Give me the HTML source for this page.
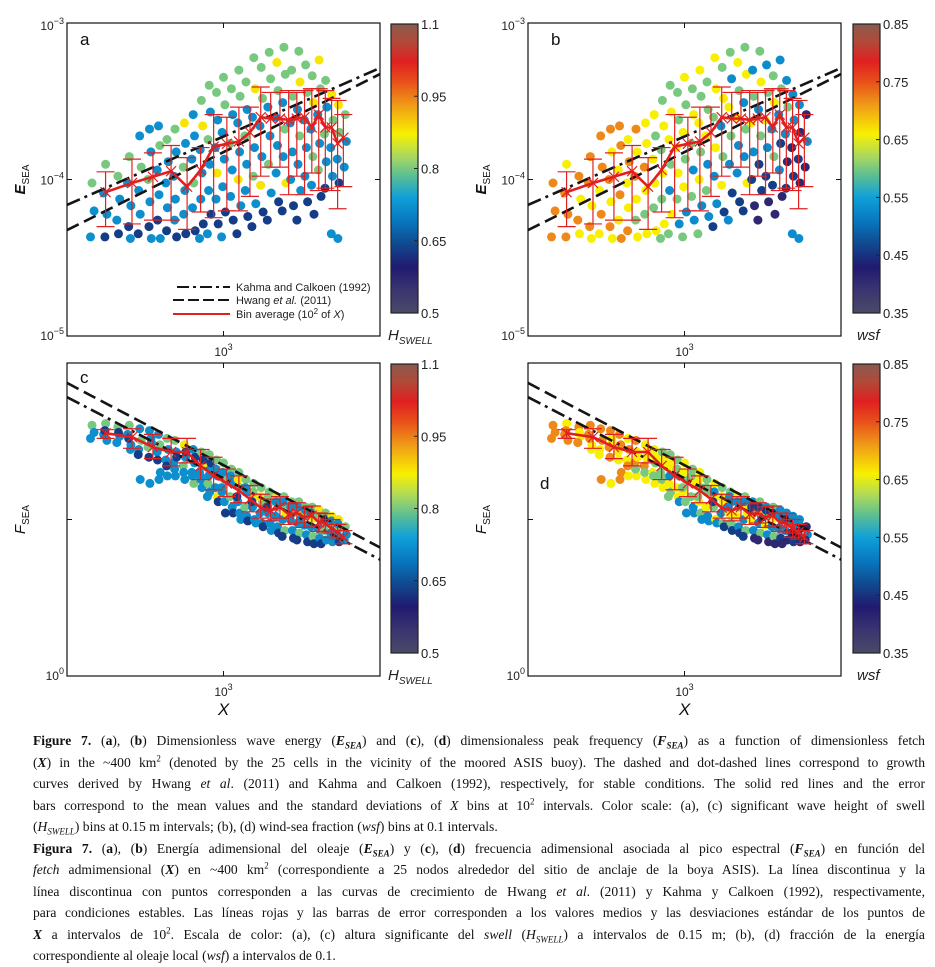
<!DOCTYPE html>
<html><head><meta charset="utf-8">
<style>
html,body{margin:0;padding:0;background:#fff;width:935px;height:958px;overflow:hidden;}
#fig{position:absolute;left:0;top:0;}
#cap{position:absolute;left:33px;top:730px;width:892px;font-family:"Liberation Serif",serif;font-size:13.6px;line-height:21.5px;color:#111;}
#cap div{text-align:justify;text-align-last:justify;white-space:nowrap;overflow:visible;}
#cap div.last{text-align-last:left;}
#cap sub,#cap sup{line-height:0;font-size:9px;}
</style></head>
<body>
<svg id="fig" width="935" height="720" xmlns="http://www.w3.org/2000/svg" font-family="Liberation Sans, sans-serif">
<defs>
<linearGradient id="cgrad" x1="0" y1="0" x2="0" y2="1">
<stop offset="0" stop-color="#8a5a4e"/><stop offset="0.06" stop-color="#b04a3a"/><stop offset="0.13" stop-color="#e02020"/><stop offset="0.2" stop-color="#e8501a"/><stop offset="0.28" stop-color="#f09a18"/><stop offset="0.38" stop-color="#f8f000"/><stop offset="0.46" stop-color="#a8d860"/><stop offset="0.52" stop-color="#60c090"/><stop offset="0.6" stop-color="#10a0d8"/><stop offset="0.68" stop-color="#0878c0"/><stop offset="0.76" stop-color="#104a90"/><stop offset="0.84" stop-color="#201a70"/><stop offset="0.92" stop-color="#3a3570"/><stop offset="1" stop-color="#4a4a68"/>
</linearGradient>
</defs>
</svg>
<div id="cap">
<div><b>Figure 7.</b> (<b>a</b>), (<b>b</b>) Dimensionless wave energy (<b><i>E<sub>SEA</sub></i></b>) and (<b>c</b>), (<b>d</b>) dimensionaless peak frequency (<b><i>F<sub>SEA</sub></i></b>) as a function of dimensionless fetch</div>
<div>(<b><i>X</i></b>) in the ~400 km<sup>2</sup> (denoted by the 25 cells in the vicinity of the moored ASIS buoy). The dashed and dot-dashed lines correspond to growth</div>
<div>curves derived by Hwang <i>et al</i>. (2011) and Kahma and Calkoen (1992), respectively, for stable conditions. The solid red lines and the error</div>
<div>bars correspond to the mean values and the standard deviations of <i>X</i> bins at 10<sup>2</sup> intervals. Color scale: (a), (c) significant wave height of swell</div>
<div class="last">(<i>H<sub>SWELL</sub></i>) bins at 0.15 m intervals; (b), (d) wind-sea fraction (<i>wsf</i>) bins at 0.1 intervals.</div>
<div><b>Figura 7.</b> (<b>a</b>), (<b>b</b>) Energía adimensional del oleaje (<b><i>E<sub>SEA</sub></i></b>) y (<b>c</b>), (<b>d</b>) frecuencia adimensional asociada al pico espectral (<b><i>F<sub>SEA</sub></i></b>) en función del</div>
<div><i>fetch</i> admimensional (<b><i>X</i></b>) en ~400 km<sup>2</sup> (correspondiente a 25 nodos alrededor del sitio de anclaje de la boya ASIS). La línea discontinua y la</div>
<div>línea discontinua con puntos corresponden a las curvas de crecimiento de Hwang <i>et al</i>. (2011) y Kahma y Calkoen (1992), respectivamente,</div>
<div>para condiciones estables. Las líneas rojas y las barras de error corresponden a los valores medios y las desviaciones estándar de los puntos de</div>
<div><b><i>X</i></b> a intervalos de 10<sup>2</sup>. Escala de color: (a), (c) altura significante del <i>swell</i> (<i>H<sub>SWELL</sub></i>) a intervalos de 0.15 m; (b), (d) fracción de la energía</div>
<div class="last">correspondiente al oleaje local (<i>wsf</i>) a intervalos de 0.1.</div>
</div>
<script>
// ---- observations (shared by all panels) ----
const obsX = [
380,386,376,
420,414,424,418,
460,466,456,462,
500,494,506,498,504,
540,546,536,542,534,
580,586,574,582,578,588,
620,626,614,622,616,628,
660,666,654,662,658,
700,706,694,702,698,708,
750,756,744,752,746,758,
800,808,792,804,796,812,
850,858,842,854,846,862,838,
900,908,892,904,896,912,888,
950,958,942,954,946,962,
1000,1010,990,1006,994,1014,986,
1060,1070,1050,1066,1054,1074,
1120,1130,1110,1126,1114,1136,1104,
1180,1190,1170,1186,1174,1196,
1250,1262,1238,1256,1244,1268,1232,
1320,1332,1308,1326,1314,1338,
1400,1414,1386,1408,1392,1420,1380,
1480,1494,1466,1488,1472,1500,
1560,1576,1546,1570,1552,1584,1540,
1650,1666,1634,1660,1640,1674,
1740,1756,1724,1750,1730,1764,1716,
1830,1848,1812,1840,1820,1856,
1920,1938,1902,1930,1910,1946,
2020,2040,2000,2030,2010,2050,
2120,2140,2100,2130,2110,
2220,2240,2200,2230,2210,
2330,2350,2310,2340,2320,
2450,2470,2430
];
const obsE = [
0.95e-4,0.63e-4,0.43e-4,
1.25e-4,0.82e-4,0.6e-4,0.43e-4,
1.05e-4,0.75e-4,0.55e-4,0.45e-4,
1.4e-4,0.95e-4,0.68e-4,0.5e-4,0.42e-4,
1.9e-4,1.2e-4,0.85e-4,0.6e-4,0.45e-4,
2.1e-4,1.5e-4,1.0e-4,0.72e-4,0.5e-4,0.42e-4,
2.2e-4,1.65e-4,1.15e-4,0.8e-4,0.55e-4,0.42e-4,
1.8e-4,1.3e-4,0.95e-4,0.66e-4,0.47e-4,
2.1e-4,1.5e-4,1.05e-4,0.75e-4,0.55e-4,0.43e-4,
2.3e-4,1.7e-4,1.2e-4,0.85e-4,0.6e-4,0.45e-4,
2.6e-4,1.9e-4,1.35e-4,0.95e-4,0.66e-4,0.47e-4,
3.2e-4,2.2e-4,1.55e-4,1.1e-4,0.75e-4,0.52e-4,0.42e-4,
4.0e-4,2.7e-4,1.8e-4,1.25e-4,0.85e-4,0.6e-4,0.45e-4,
3.6e-4,2.4e-4,1.6e-4,1.1e-4,0.75e-4,0.52e-4,
4.5e-4,3.0e-4,2.0e-4,1.35e-4,0.9e-4,0.62e-4,0.43e-4,
3.8e-4,2.6e-4,1.7e-4,1.15e-4,0.78e-4,0.55e-4,
5.0e-4,3.4e-4,2.3e-4,1.5e-4,1.0e-4,0.68e-4,0.45e-4,
4.2e-4,2.8e-4,1.9e-4,1.25e-4,0.85e-4,0.58e-4,
6.0e-4,3.8e-4,2.5e-4,1.6e-4,1.05e-4,0.7e-4,0.5e-4,
5.2e-4,3.3e-4,2.2e-4,1.4e-4,0.92e-4,0.62e-4,
6.5e-4,4.4e-4,2.9e-4,1.9e-4,1.25e-4,0.82e-4,0.55e-4,
5.6e-4,3.7e-4,2.5e-4,1.65e-4,1.1e-4,0.72e-4,
7.0e-4,4.7e-4,3.1e-4,2.1e-4,1.4e-4,0.95e-4,0.63e-4,
5.0e-4,3.4e-4,2.3e-4,1.5e-4,1.0e-4,0.68e-4,
6.6e-4,4.2e-4,2.8e-4,1.9e-4,1.25e-4,0.85e-4,0.55e-4,
5.4e-4,3.6e-4,2.4e-4,1.6e-4,1.05e-4,0.72e-4,
4.6e-4,3.1e-4,2.1e-4,1.4e-4,0.92e-4,0.6e-4,
5.8e-4,3.8e-4,2.6e-4,1.7e-4,1.15e-4,0.78e-4,
4.3e-4,2.9e-4,1.95e-4,1.3e-4,0.88e-4,
3.5e-4,2.4e-4,1.6e-4,1.05e-4,0.45e-4,
3.0e-4,2.0e-4,1.35e-4,0.95e-4,0.42e-4,
2.6e-4,1.75e-4,1.2e-4
];
const obsF = [
40,36,33,
41,35,32,37,
39,34,31,36,
40,35,30,33,28,
38,32,28,18,26,
37,33,29,17,25,31,
35,30,27,18,24,20,
33,28,24,19,22,
32,27,23,19,21,25,
30,25,22,18,20,27,
28,23,20,17,19,25,
27,22,19,16,18,24,20,
26,21,17,15,19,23,14,
24,19,16,14,21,13,
23,18,15,13,20,11,16,
21,17,14,12,19,11,
20,16,13,11,18,10,14,
18,15,12,10.5,16,9.8,
17,14,12,10,15,9.5,13,
16,13,11,9.5,14,9,
15,13,11,9.5,14,8.5,12,
14,12,10.5,9,13,8.2,
14,12,10,8.5,13,11,7.8,
13,11,10,8.5,12,7.6,
13,11,9.5,8.2,12,10,7.4,
12,10.5,9.2,8,11.5,7.2,
12,10.2,9,7.8,11,7.0,
11.5,10,8.8,7.6,10.5,7,
11,9.6,8.5,7.4,10,
10.5,9.2,8.2,7.2,9.8,
10,8.8,8,7.2,9.4,
9,8,7.4
];
const obsH = [
0.8,0.72,0.72,
0.8,0.72,0.72,0.63,
0.8,0.72,0.72,0.63,
0.8,0.72,0.72,0.63,0.72,
0.72,0.8,0.72,0.72,0.63,
0.72,0.72,0.8,0.72,0.63,0.72,
0.72,0.8,0.72,0.72,0.63,0.72,
0.8,0.72,0.72,0.72,0.63,
0.8,0.72,0.72,0.72,0.72,0.63,
0.88,0.72,0.8,0.72,0.72,0.63,
0.72,0.72,0.72,0.8,0.72,0.63,
0.8,0.88,0.72,0.72,0.72,0.63,0.72,
0.8,0.72,0.8,0.72,0.72,0.63,0.72,
0.8,0.72,0.72,0.88,0.72,0.63,
0.8,0.8,0.72,0.72,0.72,0.63,0.72,
0.8,0.72,0.8,0.72,0.72,0.63,
0.8,0.8,0.72,0.72,0.88,0.72,0.63,
0.8,0.72,0.8,0.72,0.72,0.63,
0.8,0.88,0.72,0.72,0.8,0.72,0.63,
0.8,0.8,0.72,0.72,0.88,0.63,
0.8,0.8,0.72,0.72,0.8,0.72,0.63,
0.88,0.8,0.72,0.72,0.72,0.63,
0.8,0.8,0.72,0.8,0.72,0.88,0.63,
0.8,0.8,0.72,0.72,0.72,0.63,
0.8,0.88,0.72,0.8,0.72,0.72,0.63,
0.8,0.8,0.72,0.72,0.72,0.63,
0.8,0.88,0.72,0.8,0.72,0.63,
0.88,0.8,0.72,0.72,0.8,0.63,
0.8,0.72,0.8,0.72,0.63,
0.88,0.8,0.72,0.72,0.72,
0.88,0.8,0.72,0.63,0.72,
0.8,0.72,0.72
];
const obsW = [
0.72,0.72,0.72,
0.66,0.72,0.72,0.72,
0.72,0.66,0.72,0.66,
0.72,0.72,0.66,0.72,0.66,
0.72,0.72,0.66,0.72,0.66,
0.72,0.66,0.72,0.66,0.72,0.66,
0.72,0.72,0.66,0.72,0.66,0.72,
0.66,0.72,0.66,0.66,0.72,
0.72,0.66,0.72,0.66,0.6,0.66,
0.66,0.66,0.72,0.66,0.6,0.66,
0.66,0.6,0.66,0.66,0.6,0.66,
0.6,0.66,0.6,0.66,0.6,0.66,0.6,
0.6,0.66,0.66,0.6,0.53,0.66,0.6,
0.6,0.6,0.66,0.66,0.6,0.53,
0.66,0.6,0.66,0.6,0.66,0.53,0.6,
0.6,0.66,0.6,0.53,0.6,0.53,
0.66,0.6,0.66,0.6,0.66,0.53,0.6,
0.6,0.6,0.66,0.53,0.6,0.53,
0.66,0.66,0.6,0.66,0.53,0.53,0.46,
0.6,0.66,0.53,0.6,0.66,0.46,
0.6,0.53,0.66,0.6,0.53,0.46,0.53,
0.66,0.6,0.66,0.53,0.53,0.46,
0.6,0.66,0.53,0.6,0.53,0.66,0.46,
0.53,0.6,0.66,0.53,0.46,0.41,
0.6,0.66,0.53,0.6,0.46,0.46,0.41,
0.53,0.6,0.66,0.53,0.46,0.41,
0.6,0.66,0.53,0.6,0.46,0.41,
0.53,0.6,0.53,0.46,0.53,0.41,
0.53,0.6,0.53,0.41,0.46,
0.53,0.53,0.41,0.46,0.53,
0.53,0.41,0.46,0.41,0.53,
0.41,0.53,0.41
];
// ---- bin averages (10^2 intervals of X) ----
const binX = [420,510,595,680,765,845,930,1025,1120,1215,1315,1415,1515,1615,1715,1815,1915,2015,2115,2215,2315,2415];
const binE = [0.83e-4,0.95e-4,1.04e-4,1.13e-4,0.9e-4,1.15e-4,1.62e-4,1.69e-4,1.75e-4,2.0e-4,2.5e-4,2.45e-4,2.45e-4,2.4e-4,2.45e-4,2.5e-4,2.15e-4,2.6e-4,2.15e-4,2.15e-4,1.7e-4,1.85e-4];
const binELo = [0.50e-4,0.52e-4,0.55e-4,0.55e-4,0.48e-4,0.62e-4,0.57e-4,0.63e-4,0.63e-4,0.78e-4,1.05e-4,1.2e-4,1.2e-4,0.8e-4,1.05e-4,0.8e-4,1.1e-4,0.85e-4,0.88e-4,0.85e-4,0.65e-4,0.9e-4];
const binEHi = [1.12e-4,1.35e-4,1.48e-4,1.65e-4,1.38e-4,1.6e-4,2.6e-4,2.5e-4,2.9e-4,2.9e-4,3.9e-4,3.6e-4,3.6e-4,3.7e-4,3.6e-4,3.7e-4,3.8e-4,3.8e-4,3.7e-4,3.3e-4,3.2e-4,2.6e-4];
const binF = [35.6,33.6,29,27,27,22,19.1,17,15.3,13.5,11.9,11.4,12,10.8,11,10.3,10.6,9.6,9.4,8.75,8.3,7.7];
const binFLo = [33,28.5,24.5,22,23,18,15.5,14,12.8,11.2,10.2,9.8,10.2,9.3,9.5,8.9,9.1,8.4,8.2,7.7,7.5,7.0];
const binFHi = [37.5,38,35,33,33,28,25,21,19,16.5,14.5,13.5,14,12.6,12.8,12,12.2,11,10.9,10,9.3,8.5];
// ---- growth curves: log10(y) = intercept + slope*log10(X) ----
const kahmaE = [-6.35, 0.875];
const hwangE = [-6.816, 0.997];
const kahmaF = [4.377, -1.038];
const hwangF = [4.50, -1.051];
// ---- colorbar ticks ----
const hTicks = [1.1,0.95,0.8,0.65,0.5];
const wTicks = [0.85,0.75,0.65,0.55,0.45,0.35];

const NS='http://www.w3.org/2000/svg';
const svg=document.getElementById('fig');
const stops=[[0,'#8a5a4e'],[0.06,'#b04a3a'],[0.13,'#e02020'],[0.2,'#e8501a'],[0.28,'#f09a18'],[0.38,'#f8f000'],[0.46,'#a8d860'],[0.52,'#60c090'],[0.6,'#10a0d8'],[0.68,'#0878c0'],[0.76,'#104a90'],[0.84,'#201a70'],[0.92,'#3a3570'],[1,'#4a4a68']];
function hx(c){return [1,3,5].map(i=>parseInt(c.substr(i,2),16));}
function cmap(t){t=Math.max(0,Math.min(1,t));for(let i=1;i<stops.length;i++){if(t<=stops[i][0]){const a=stops[i-1],b=stops[i];const f=(t-a[0])/(b[0]-a[0]);const A=hx(a[1]),B=hx(b[1]);return 'rgb('+A.map((v,k)=>Math.round(v+(B[k]-v)*f)).join(',')+')';}}return stops[stops.length-1][1];}
function el(tag,attrs,parent){const e=document.createElementNS(NS,tag);for(const k in attrs)e.setAttribute(k,attrs[k]);(parent||svg).appendChild(e);return e;}

function powText(x,y,exp,anchor,g){
  const t=el('text',{x:x,y:y,'font-size':12,'text-anchor':anchor,fill:'#222'},g);
  
  
  const a=el('tspan',{},t);a.textContent='10';
  const b=el('tspan',{dy:-6,'font-size':9},t);b.textContent=exp;
  return t;
}

function panel(p){
  const g=el('g',{});
  
  
  const W=313,H=313,x0=p.x,y0=p.y;
  const sx=v=>x0+(Math.log10(v)-2.5)*W;
  const sy=p.kind==='E'?(v=>y0+H-(Math.log10(v)+5)/2*H):(v=>y0+H-(Math.log10(v))/2*H);
  const cid='clip'+p.id;
  const cp=el('clipPath',{id:cid},g);el('rect',{x:x0,y:y0,width:W,height:H},cp);
  const pg=el('g',{'clip-path':'url(#'+cid+')'},g);
  
  
  const yv=p.kind==='E'?obsE:obsF;
  const cv=p.color==='h'?obsH:obsW;
  for(let i=0;i<obsX.length;i++){
    const t=p.color==='h'?(1.1-cv[i])/0.6:(0.85-cv[i])/0.5;
    const c=el('circle',{cx:sx(obsX[i]).toFixed(1),cy:sy(yv[i]).toFixed(1),r:4.5,fill:cmap(t)},pg);
    
    
  }
  const k=p.kind==='E'?kahmaE:kahmaF, hw=p.kind==='E'?hwangE:hwangF;
  const line=(co,dash,name)=>{const xa=Math.pow(10,2.5),xb=Math.pow(10,3.5);
    const l=el('line',{x1:sx(xa),y1:sy(Math.pow(10,co[0]+co[1]*2.5)),x2:sx(xb),y2:sy(Math.pow(10,co[0]+co[1]*3.5)),stroke:'#151515','stroke-width':2.6,'stroke-dasharray':dash},pg);
    
    };
  line(k,'14 5 3 5','kahma-calkoen-line');
  line(hw,'13 6','hwang-line');
  const bm=p.kind==='E'?binE:binF, bl=p.kind==='E'?binELo:binFLo, bh=p.kind==='E'?binEHi:binFHi;
  for(let i=0;i<binX.length;i++){
    const x=sx(binX[i]);
    const eg=el('g',{stroke:'#e02020','stroke-width':1.2},pg);
    
    
    el('line',{x1:x,x2:x,y1:sy(bl[i]),y2:sy(bh[i])},eg);
    el('line',{x1:x-9,x2:x+9,y1:sy(bl[i]),y2:sy(bl[i])},eg);
    el('line',{x1:x-9,x2:x+9,y1:sy(bh[i]),y2:sy(bh[i])},eg);
    const y=sy(bm[i]);
    el('line',{x1:x-5,x2:x+5,y1:y-5,y2:y+5},eg);
    el('line',{x1:x-5,x2:x+5,y1:y+5,y2:y-5},eg);
  }
  const pl=el('polyline',{points:binX.map((v,i)=>sx(v).toFixed(1)+','+sy(bm[i]).toFixed(1)).join(' '),fill:'none',stroke:'#e02020','stroke-width':2.6,'stroke-linejoin':'round'},pg);
  
  
  const bx=el('rect',{x:x0,y:y0,width:W,height:H,fill:'none',stroke:'#111','stroke-width':1.2},g);
  
  
  const xt=sx(1000), ym=y0+H/2;
  [[xt,y0,xt,y0+5],[xt,y0+H,xt,y0+H-5],[x0,ym,x0+5,ym],[x0+W,ym,x0+W-5,ym]].forEach(a=>{const t=el('line',{x1:a[0],y1:a[1],x2:a[2],y2:a[3],stroke:'#111','stroke-width':1},g);});
  powText(xt,y0+H+20,'3','middle',g);
  if(p.kind==='E'){powText(x0-3,y0+7,'−3','end',g);powText(x0-3,ym+5,'−4','end',g);powText(x0-3,y0+H+4,'−5','end',g);}
  else{powText(x0-3,y0+H+4,'0','end',g);}
  const yt=el('text',{transform:'translate('+(x0-42)+','+(ym)+') rotate(-90)','text-anchor':'middle','font-size':15,'font-style':'italic','font-weight':p.kind==='E'?'bold':'normal',fill:'#111'},g);
  
  
  const t1=el('tspan',{},yt);t1.textContent=p.kind==='E'?'E':'F';
  const t2=el('tspan',{'font-size':10,dy:4,'font-weight':'normal','font-style':'normal'},yt);t2.textContent='SEA';
  if(p.kind==='F'){const xl=el('text',{x:xt,y:y0+H+39,'text-anchor':'middle','font-size':17,'font-style':'italic',fill:'#111'},g);xl.textContent='X';
    
    }
  const lt=el('text',{x:p.lx,y:p.ly,'font-size':17,fill:'#111'},g);lt.textContent=p.id;
  
  
  const cb=el('g',{},g);
  
  
  const cx=p.cbx, cy=y0+1, ch=289, cw=27;
  el('rect',{x:cx,y:cy,width:cw,height:ch,fill:'url(#cgrad)',stroke:'#222','stroke-width':1.2},cb);
  const ticks=p.color==='h'?hTicks:wTicks;
  ticks.forEach((v,i)=>{const y=cy+i*ch/(ticks.length-1);
    el('line',{x1:cx+cw-4,x2:cx+cw,y1:y,y2:y,stroke:'#222'},cb);
    const tt=el('text',{x:cx+cw+3,y:y+5,'font-size':13,fill:'#222'},cb);tt.textContent=String(v);
    
    });
  const ct=el('text',{x:cx-3,y:cy+ch+27,'font-size':15,'font-style':'italic',fill:'#222'},cb);
  
  
  if(p.color==='h'){const a=el('tspan',{},ct);a.textContent='H';const b=el('tspan',{'font-size':10,dy:4},ct);b.textContent='SWELL';}
  else{ct.setAttribute('x',cx+4);ct.textContent='wsf';}
  return g;
}
panel({id:'a',x:67,y:23,kind:'E',color:'h',cbx:391,lx:80,ly:45});
panel({id:'b',x:528,y:23,kind:'E',color:'w',cbx:853,lx:551,ly:45});
panel({id:'c',x:67,y:363,kind:'F',color:'h',cbx:391,lx:80,ly:383});
panel({id:'d',x:528,y:363,kind:'F',color:'w',cbx:853,lx:540,ly:489});
const lg=el('g',{});


[['Kahma and Calkoen (1992)','12 4 3 4','#151515',287],['Hwang et al. (2011)','11 4','#151515',300],['Bin average (10² of X)','','#e02020',314]].forEach((r,i)=>{
  const l=el('line',{x1:i===0?177:173,x2:230,y1:r[3],y2:r[3],stroke:r[2],'stroke-width':2},lg);
  if(r[1])l.setAttribute('stroke-dasharray',r[1]);
  const t=el('text',{x:236,y:r[3]+4,'font-size':11,fill:'#222'},lg);
  
  
  if(i===1){t.innerHTML='Hwang <tspan font-style="italic">et al.</tspan> (2011)';}
  else if(i===2){t.innerHTML='Bin average (10<tspan dy="-4" font-size="8">2</tspan><tspan dy="4"> of </tspan><tspan font-style="italic">X</tspan>)';}
  else t.textContent=r[0];
});
</script>
</body></html>
